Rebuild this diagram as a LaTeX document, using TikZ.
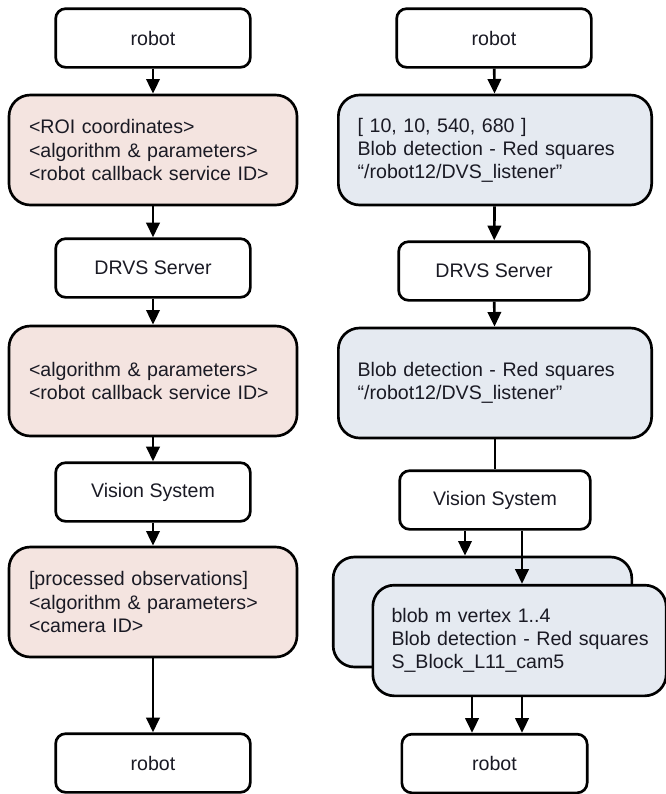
\documentclass[tikz,border=0pt]{standalone}
\usepackage{fontspec}
\setmainfont{Liberation Sans}
\usetikzlibrary{arrows.meta, calc}
\definecolor{SoftPink}{HTML}{F4E4E0}
\definecolor{SoftBlue}{HTML}{E5EAF1}
\definecolor{InkBlack}{HTML}{1A1A24}
\tikzset{
  smallbox/.style={draw=black, line width=2pt, rounded corners=7.5pt, fill=white, align=center, minimum width=146pt, minimum height=44pt, inner sep=4pt, font=\fontsize{14.7}{17.3}\selectfont, text=InkBlack},
  pinkbox/.style={draw=black, line width=2pt, rounded corners=16pt, fill=SoftPink, align=left, minimum width=216pt, text width=186pt, inner xsep=15pt, minimum height=82.5pt, font=\fontsize{14.7}{17.3}\selectfont, text=InkBlack},
  bluebox/.style={draw=black, line width=2pt, rounded corners=16pt, fill=SoftBlue, align=left, minimum height=82.5pt, inner xsep=14.5pt, font=\fontsize{14.7}{17.3}\selectfont, text=InkBlack},
  arrow/.style={-{Triangle[length=11pt, width=10pt]}, line width=2pt, draw=black},
  plainline/.style={line width=2pt, draw=black}
}
\begin{document}
\begin{tikzpicture}[x=0.75pt, y=-0.75pt]
\useasboundingbox (0,0) rectangle (666,794);
% left column: generic message flow
\node[smallbox] (robotL) at (153,38) {robot};
\node[pinkbox] (reqL) at (153,150) {<ROI coordinates>\\<algorithm \& parameters>\\<robot callback service ID>};
\node[smallbox] (drvsL) at (153,268) {DRVS Server};
\node[pinkbox] (fwdL) at (153,381) {<algorithm \& parameters>\\<robot callback service ID>};
\node[smallbox] (visL) at (153,492) {Vision System};
\node[pinkbox] (obsL) at (153,602) {[processed observations]\\<algorithm \& parameters>\\<camera ID>};
\node[smallbox] (endL) at (153,763) {robot};
\draw[arrow] (robotL) -- (reqL);
\draw[arrow] (reqL) -- (drvsL);
\draw[arrow] (drvsL) -- (fwdL);
\draw[arrow] (fwdL) -- (visL);
\draw[arrow] (visL) -- (obsL);
\draw[arrow] (obsL) -- (endL);
% right column: example values
\node[smallbox] (robotR) at (494,38) {robot};
\node[bluebox, minimum width=235pt, text width=206pt] (reqR) at (495,150) {[ 10, 10, 540, 680 ]\\Blob detection - Red squares\\``/robot12/DVS\_listener''};
\node[smallbox, minimum width=143pt] (drvsR) at (494,271) {DRVS Server};
\node[bluebox, minimum width=235pt, text width=206pt] (fwdR) at (495,383) {Blob detection - Red squares\\``/robot12/DVS\_listener''};
\node[smallbox, minimum width=143pt] (visR) at (495,500) {Vision System};
\node[bluebox, minimum width=224pt, text width=195pt] (back) at (482.5,612) {};
\node[bluebox, minimum width=220pt, text width=200pt, inner xsep=10pt, minimum height=83pt] (front) at (519.5,640.5) {\hspace*{4pt}blob m vertex 1..4\\\hspace*{4pt}Blob detection - Red squares\\\hspace*{4pt}S\_Block\_L11\_cam5};
\node[smallbox, minimum width=139pt] (endR) at (494.5,763.5) {robot};
\draw[arrow] (robotR) -- (reqR);
\draw[arrow] (reqR) -- (drvsR);
\draw[arrow] (drvsR) -- (fwdR);
\draw[plainline] (fwdR) -- (visR);
\draw[arrow] ([xshift=-22.5pt]visR.south) -- ([xshift=-22.5pt]visR.south |- back.north);
\draw[arrow] ([xshift=20.25pt]visR.south) -- ([xshift=20.25pt]visR.south |- front.north);
\draw[arrow] ([xshift=-35.6pt]front.south) -- ([xshift=-35.6pt]front.south |- endR.north);
\draw[arrow] ([xshift=1.9pt]front.south) -- ([xshift=1.9pt]front.south |- endR.north);
\end{tikzpicture}
\end{document}
